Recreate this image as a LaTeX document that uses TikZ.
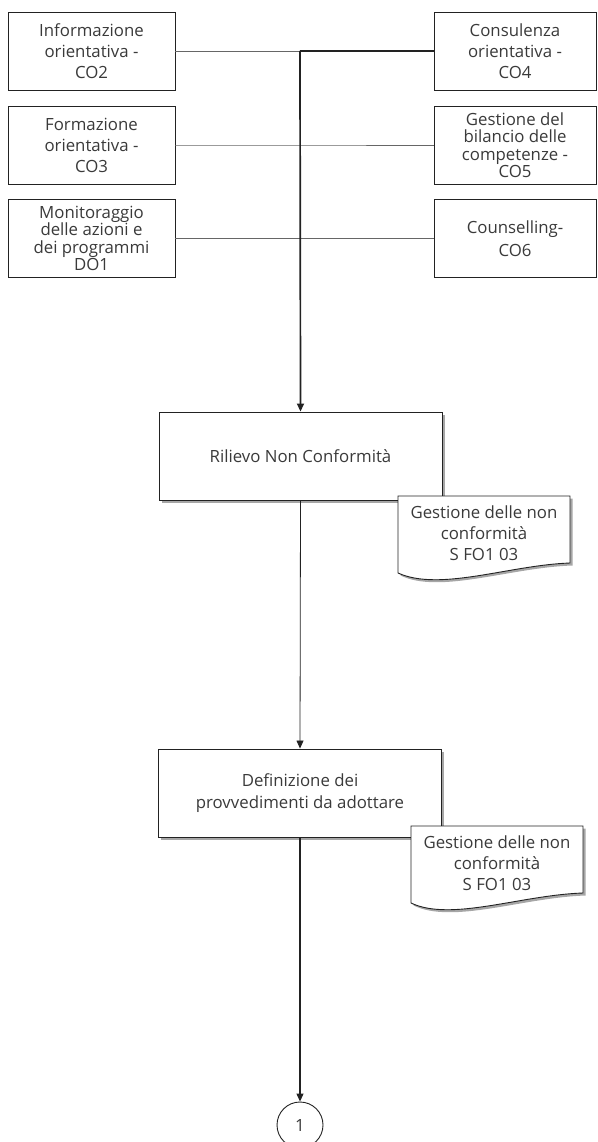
\documentclass[tikz,border=0pt]{standalone}
\usepackage{fontspec}
\setmainfont{Open Sans}
\usetikzlibrary{arrows.meta,shadows}
\definecolor{txt}{HTML}{3A3A3A}
\definecolor{ln}{HTML}{222222}
\begin{document}
\begin{tikzpicture}[x=1pt,y=-1pt,
  font=\fontsize{16.8}{17.5}\selectfont\color{txt},
  box/.style={draw=ln,line width=0.9pt,fill=white,align=center,inner sep=0pt},
  lbox/.style={box,minimum width=167pt,minimum height=78pt},
  rbox/.style={box,minimum width=162pt,minimum height=78pt},
  pbox/.style={box,minimum width=283pt,minimum height=88pt,
     drop shadow={shadow xshift=2.5pt,shadow yshift=-2.5pt,fill=gray!70,opacity=1}},
  thinln/.style={draw=gray!80!black,line width=0.9pt},
  thickln/.style={draw=ln,line width=1.7pt},
  arr/.style={-{Triangle[width=7pt,length=8pt]}},
  doctext/.style={align=center,inner sep=0pt}
]
\useasboundingbox (0,0) rectangle (597,1142);
% left boxes
\node[lbox] (b1) at (91.5,51) {Informazione\\[3.5pt]orientativa -\\[3.5pt]CO2};
\node[lbox] (b2) at (91.5,145) {Formazione\\[3.5pt]orientativa -\\[3.5pt]CO3};
\node[lbox] (b3) at (91.5,238.5) {Monitoraggio\\delle azioni e\\dei programmi\\DO1};
% right boxes
\node[rbox] (r1) at (515,51) {Consulenza\\[3.5pt]orientativa -\\[3.5pt]CO4};
\node[rbox] (r2) at (515,145) {Gestione del\\bilancio delle\\competenze -\\CO5};
\node[rbox] (r3) at (515,238.5) {Counselling-\\[5pt]CO6};
% junctions
\coordinate (j1) at (300,51);
\coordinate (j2) at (300,145);
\coordinate (j3) at (300,238.5);
% process boxes
\node[pbox] (p1) at (300.5,456) {Rilievo Non Conformità};
\node[pbox] (p2) at (300,793) {Definizione dei\\[5pt]provvedimenti da adottare};
% connectors
\draw[thinln] (b1.east) -- (j1);
\draw[thinln] (b2.east) -- (j2) -- (r2.west);
\draw[thinln] (b3.east) -- (j3) -- (r3.west);
\draw[thickln] (r1.west) -- (j1);
\draw[thickln,arr] (j1) -- (p1.north);
% documents
\begin{scope}
\path[fill=gray!70] (400.5,498.5) -- (572.5,498.5) -- (572.5,565.5) .. controls (510,567.5) and (440,594.5) .. (400.5,575.5) -- cycle;
\path[draw=ln,line width=0.9pt,fill=white] (398,496) -- (570,496) -- (570,563) .. controls (510,565) and (440,592) .. (398,573) -- cycle;
\end{scope}
\node[doctext] (d1) at (484,533) {Gestione delle non\\[3.5pt]conformità\\[3.5pt]S FO1 03};
\begin{scope}
\path[fill=gray!70] (413.5,828.5) -- (585.5,828.5) -- (585.5,895.5) .. controls (523,897.5) and (453,924.5) .. (413.5,905.5) -- cycle;
\path[draw=ln,line width=0.9pt,fill=white] (411,826) -- (583,826) -- (583,893) .. controls (521,895) and (451,922) .. (411,903) -- cycle;
\end{scope}
\node[doctext] (d2) at (497,863) {Gestione delle non\\[3.5pt]conformità\\[3.5pt]S FO1 03};
% connector p1 -> p2
\draw[draw=ln,line width=0.8pt,arr] (p1.south) -- (p2.north);
% connector p2 -> circle
\node[draw=ln,line width=0.9pt,circle,minimum size=46pt,inner sep=0pt] (c1) at (300,1125) {1};
\coordinate (mid) at (300,970);
\draw[thickln] (p2.south) -- (mid);
\draw[draw=ln,line width=1.1pt,arr] (mid) -- (c1.north);
\end{tikzpicture}
\end{document}
